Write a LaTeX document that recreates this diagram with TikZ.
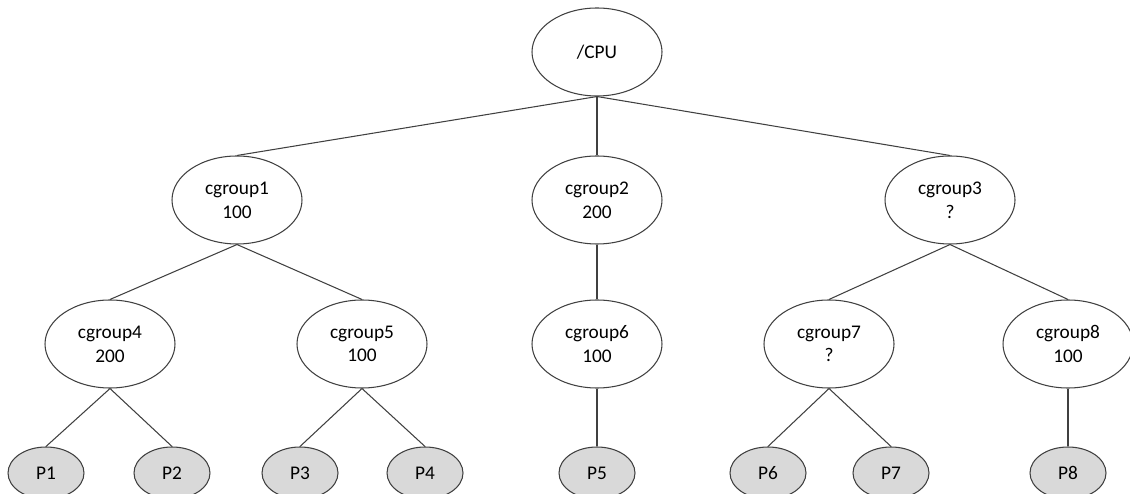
\documentclass[tikz,border=0pt]{standalone}
\usepackage{fontspec}
\setmainfont{Carlito}
\usetikzlibrary{shapes.geometric}
\definecolor{procC}{HTML}{D9D9D9}
\definecolor{lineC}{HTML}{404040}
\tikzset{
  grp/.style={draw=lineC, ellipse, align=center, font=\fontsize{11}{13.5}\selectfont,
              inner sep=0pt, minimum width=2.6cm, minimum height=1.76cm, line width=0.6pt},
  proc/.style={grp, fill=procC, minimum width=1.52cm, minimum height=1.04cm},
  link/.style={draw=lineC, line width=0.6pt},
}

\begin{document}
\begin{tikzpicture}
\useasboundingbox (0,0) rectangle (22.6,-9.88);
% root and first level
\node[grp] (cpu) at (11.94,-1.04) {/CPU};
\node[grp] (cg1) at (4.74,-4.0) {cgroup1\\100};
\node[grp] (cg2) at (11.94,-4.0) {cgroup2\\200};
\node[grp] (cg3) at (19.0,-4.0) {cgroup3\\?};
% second level
\node[grp] (cg4) at (2.2,-6.88) {cgroup4\\200};
\node[grp] (cg5) at (7.24,-6.88) {cgroup5\\100};
\node[grp] (cg6) at (11.94,-6.88) {cgroup6\\100};
\node[grp] (cg7) at (16.58,-6.88) {cgroup7\\?};
\node[grp] (cg8) at (21.36,-6.88) {cgroup8\\100};
% processes
\node[proc] (p1) at (0.92,-9.46) {P1};
\node[proc] (p2) at (3.44,-9.46) {P2};
\node[proc] (p3) at (6.0,-9.46) {P3};
\node[proc] (p4) at (8.5,-9.46) {P4};
\node[proc] (p5) at (11.94,-9.46) {P5};
\node[proc] (p6) at (15.36,-9.46) {P6};
\node[proc] (p7) at (17.82,-9.46) {P7};
\node[proc] (p8) at (21.36,-9.46) {P8};
% hierarchy
\foreach \a/\b in {cpu/cg1, cpu/cg2, cpu/cg3, cg1/cg4, cg1/cg5, cg2/cg6, cg3/cg7, cg3/cg8,
                   cg4/p1, cg4/p2, cg5/p3, cg5/p4, cg6/p5, cg7/p6, cg7/p7, cg8/p8}
  \draw[link] (\a.south) -- (\b.north);
\end{tikzpicture}
\end{document}
